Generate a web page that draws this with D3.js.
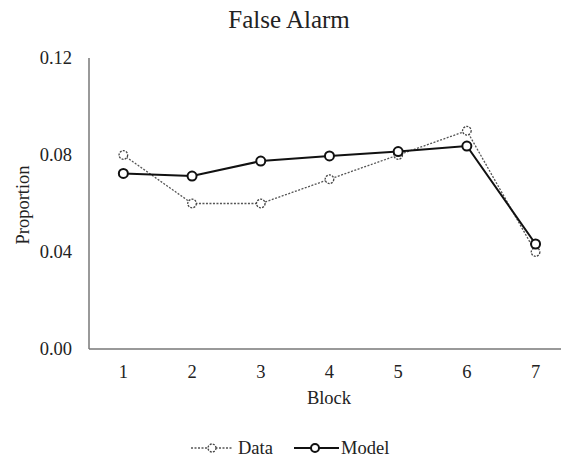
<!DOCTYPE html>
<html>
<head>
<meta charset="utf-8">
<script src="https://cdn.jsdelivr.net/npm/d3@7"></script>
<style>
  body { margin: 0; background: #fff; }
  svg text { font-family: "Liberation Serif", "DejaVu Serif", "Times New Roman", Times, serif; fill: #222; }
</style>
</head>
<body>
<div id="chart"></div>
<script>
const blocks = [1, 2, 3, 4, 5, 6, 7];
const dataValues = [0.080, 0.060, 0.060, 0.070, 0.080, 0.090, 0.040];
const modelValues = [0.0724, 0.0713, 0.0775, 0.0796, 0.0814, 0.0837, 0.0433];
const yTicks = [0, 0.04, 0.08, 0.12];

let width = 561, height = 458;
let margin = { left: 89, top: 58, bottom: 109 };
let fontSize = "18.5px";

let svg = d3.select("#chart").append("svg")
  .attr("width", width)
  .attr("height", height);

let x = d3.scaleBand()
  .domain(blocks)
  .range([margin.left, margin.left + 7 * 68.7]);

let y = d3.scaleLinear()
  .domain([0, 0.12])
  .range([height - margin.bottom, margin.top]);

// axes
svg.append("line")
  .attr("x1", margin.left).attr("x2", margin.left)
  .attr("y1", y(0.12)).attr("y2", y(0))
  .attr("stroke", "#777").attr("stroke-width", 1.5);
svg.append("line")
  .attr("x1", margin.left).attr("x2", width)
  .attr("y1", y(0)).attr("y2", y(0))
  .attr("stroke", "#777").attr("stroke-width", 1.5);

svg.selectAll(".ytick")
  .data(yTicks)
  .enter().append("text")
  .attr("class", "ytick")
  .attr("x", 72)
  .attr("y", d => y(d))
  .attr("dy", "0.35em")
  .attr("text-anchor", "end")
  .style("font-size", fontSize)
  .text(d => d3.format(".2f")(d));

svg.selectAll(".xtick")
  .data(blocks)
  .enter().append("text")
  .attr("class", "xtick")
  .attr("x", d => x(d) + x.bandwidth() / 2)
  .attr("y", 372)
  .attr("dy", "0.35em")
  .attr("text-anchor", "middle")
  .style("font-size", fontSize)
  .text(d => d);

svg.append("text")
  .attr("x", 329).attr("y", 398)
  .attr("dy", "0.35em")
  .attr("text-anchor", "middle")
  .style("font-size", fontSize)
  .text("Block");

svg.append("text")
  .attr("transform", "translate(23,205) rotate(-90)")
  .attr("dy", "0.35em")
  .attr("text-anchor", "middle")
  .style("font-size", fontSize)
  .text("Proportion");

svg.append("text")
  .attr("x", 289).attr("y", 19)
  .attr("dy", "0.35em")
  .attr("text-anchor", "middle")
  .style("font-size", "25px")
  .text("False Alarm");

let cx = (d, i) => x(blocks[i]) + x.bandwidth() / 2;

let line = d3.line()
  .x(cx)
  .y(d => y(d));

// data series (dotted)
svg.append("path")
  .datum(dataValues)
  .attr("fill", "none")
  .attr("stroke", "#555")
  .attr("stroke-width", 1.3)
  .attr("stroke-dasharray", "2,1.5")
  .attr("d", line);

svg.selectAll(".dataPt")
  .data(dataValues)
  .enter().append("circle")
  .attr("class", "dataPt")
  .attr("cx", cx)
  .attr("cy", d => y(d))
  .attr("r", 4.3)
  .attr("fill", "#fff")
  .attr("stroke", "#444")
  .attr("stroke-width", 1.3)
  .attr("stroke-dasharray", "2,1.2");

// model series (solid)
svg.append("path")
  .datum(modelValues)
  .attr("fill", "none")
  .attr("stroke", "#111")
  .attr("stroke-width", 2)
  .attr("d", line);

svg.selectAll(".modelPt")
  .data(modelValues)
  .enter().append("circle")
  .attr("class", "modelPt")
  .attr("cx", cx)
  .attr("cy", d => y(d))
  .attr("r", 4.5)
  .attr("fill", "#fff")
  .attr("stroke", "#111")
  .attr("stroke-width", 2);

// legend
let ly = 448;
let legend = svg.append("g");
legend.append("line")
  .attr("x1", 191).attr("x2", 233).attr("y1", ly).attr("y2", ly)
  .attr("stroke", "#555").attr("stroke-width", 1.3).attr("stroke-dasharray", "2,1.5");
legend.append("circle")
  .attr("cx", 212).attr("cy", ly).attr("r", 4)
  .attr("fill", "#fff").attr("stroke", "#444").attr("stroke-width", 1.3)
  .attr("stroke-dasharray", "2,1.2");
legend.append("text")
  .attr("x", 238).attr("y", ly).attr("dy", "0.35em")
  .style("font-size", fontSize).text("Data");

legend.append("line")
  .attr("x1", 294).attr("x2", 339).attr("y1", ly).attr("y2", ly)
  .attr("stroke", "#111").attr("stroke-width", 2);
legend.append("circle")
  .attr("cx", 315).attr("cy", ly).attr("r", 4)
  .attr("fill", "#fff").attr("stroke", "#111").attr("stroke-width", 2);
legend.append("text")
  .attr("x", 341).attr("y", ly).attr("dy", "0.35em")
  .style("font-size", fontSize).text("Model");
</script>
</body>
</html>
